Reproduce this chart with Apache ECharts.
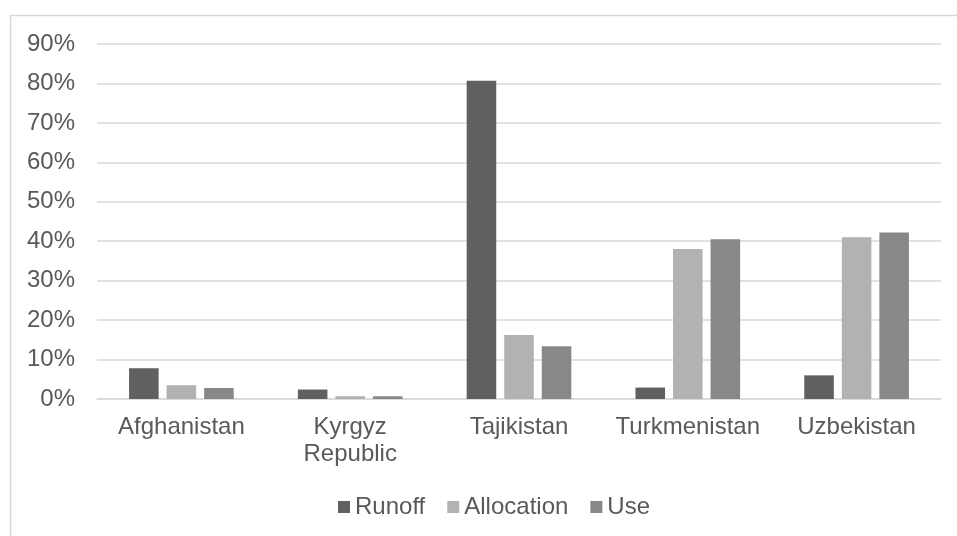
<!DOCTYPE html>
<html>
<head>
<meta charset="utf-8">
<script src="https://cdn.jsdelivr.net/npm/echarts@6/dist/echarts.min.js"></script>
<style>html,body{margin:0;padding:0;background:#fff;}#c{width:957px;height:536px;}</style>
</head>
<body>
<div id="c"></div>
<script>
const categories = ['Afghanistan', 'Kyrgyz\nRepublic', 'Tajikistan', 'Turkmenistan', 'Uzbekistan'];
const runoff = [7.8, 2.4, 80.7, 2.9, 6.0];
const allocation = [3.5, 0.7, 16.2, 38.0, 41.0];
const use = [2.8, 0.7, 13.4, 40.5, 42.2];
const yTicks = [0, 10, 20, 30, 40, 50, 60, 70, 80, 90];

const chart = echarts.init(document.getElementById('c'));
const font = 'Liberation Sans, Arial, sans-serif';
chart.setOption({
  animation: false,
  textStyle: { fontFamily: font },
  graphic: [{
    type: 'rect', shape: { x: 10.5, y: 15.5, width: 1000, height: 1000 },
    style: { fill: 'none', stroke: '#d9d9d9', lineWidth: 1.5 }, silent: true
  }],
  grid: { left: 97, right: 16, top: 44, bottom: 137, containLabel: false },
  legend: {
    top: 490, left: 333, itemWidth: 12, itemHeight: 12, itemGap: 22,
    icon: 'rect',
    textStyle: { fontSize: 24, color: '#595959', fontFamily: font },
    data: ['Runoff', 'Allocation', 'Use']
  },
  xAxis: {
    type: 'category', data: categories,
    axisLine: { lineStyle: { color: '#d9d9d9', width: 1.5 } },
    axisTick: { show: false },
    axisLabel: { interval: 0, fontSize: 24, color: '#595959', margin: 15, lineHeight: 27, fontFamily: font, hideOverlap: false }
  },
  yAxis: {
    type: 'value', min: yTicks[0], max: yTicks[yTicks.length - 1], interval: 10,
    axisLine: { show: false }, axisTick: { show: false },
    splitLine: { lineStyle: { color: '#d9d9d9', width: 1.5 } },
    axisLabel: { fontSize: 24, color: '#595959', margin: 22, formatter: v => v + '%', fontFamily: font }
  },
  series: [
    { name: 'Runoff', type: 'bar', data: runoff, barGap: '27%', barCategoryGap: '38%', itemStyle: { color: '#606060' } },
    { name: 'Allocation', type: 'bar', data: allocation, itemStyle: { color: '#b2b2b2' } },
    { name: 'Use', type: 'bar', data: use, itemStyle: { color: '#888888' } }
  ]
});
</script>
</body>
</html>
